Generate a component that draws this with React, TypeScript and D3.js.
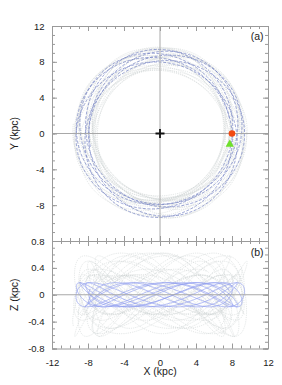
import { useEffect, useRef } from 'react';
import * as d3 from 'd3';

const W = 282;
const H = 385;

// tick labels
const X_TICKS = [-12, -8, -4, 0, 4, 8, 12];
const Y_TICKS = [-12, -8, -4, 0, 4, 8, 12];
const Z_TICKS = [-0.8, -0.4, 0, 0.4, 0.8];

// orbits: first one is the model orbit (blue), the rest are the gray Monte-Carlo orbits
const ORBIT_IDS = ['model', 'mc1', 'mc2', 'mc3', 'mc4', 'mc5', 'mc6'];
const R_PERI = [7.88, 6.95, 7.25, 7.1, 7.5, 7.0, 7.3]; // kpc
const R_APO = [9.4, 9.65, 9.5, 9.7, 9.35, 9.55, 9.6]; // kpc
const Z_MAX = [0.18, 0.62, 0.3, 0.5, 0.29, 0.58, 0.38]; // kpc
const KAPPA_RATIO = [1.38, 1.4, 1.37, 1.42, 1.39, 1.36, 1.41]; // kappa / Omega
const NU_RATIO = [2.62, 1.9, 2.4, 2.1, 2.7, 1.75, 2.25]; // nu / Omega
const TURNS = [6.5, 4, 4, 4, 4, 4, 4];
const PHASE = [0.2, 1.1, 2.3, 3.0, 4.1, 5.2, 0.7];

const SUN = { x: 8.0, y: 0 };
const STAR = { x: 7.75, y: -1.2 };

type Pt = { x: number; y: number; z: number };

function orbitPoints(i: number): Pt[] {
  const rg = (R_PERI[i] + R_APO[i]) / 2;
  const a = (R_APO[i] - R_PERI[i]) / 2;
  const k = KAPPA_RATIO[i];
  const nu = NU_RATIO[i];
  const p = PHASE[i];
  return d3.range(0, TURNS[i] * 2 * Math.PI, 0.015).map((t) => {
    const r = rg - a * Math.cos(k * t + p);
    const phi = t + p + (2 / k) * (a / rg) * Math.sin(k * t + p);
    return { x: r * Math.cos(phi), y: r * Math.sin(phi), z: Z_MAX[i] * Math.sin(nu * t + 1.7 * p) };
  });
}

export default function App() {
  const svgRef = useRef<SVGSVGElement>(null);

  useEffect(() => {
    if (!svgRef.current) return;
    const svg = d3.select(svgRef.current);
    svg.selectAll('*').remove();

    const left = 52;
    const right = 268;
    const topA = 26;
    const mid = 241;
    const botB = 348.5;

    const x = d3.scaleLinear().domain([-12, 12]).range([left, right]);
    const y = d3.scaleLinear().domain([-12, 12]).range([mid, topA]);
    const z = d3.scaleLinear().domain([-0.8, 0.8]).range([botB, mid]);

    const font = '"Liberation Sans", Arial, sans-serif';
    const axisColor = '#9a9a9a';
    const grayOrbit = '#cdd3d3';
    const fmt = (d: d3.NumberValue) => String(d);

    const orbits = ORBIT_IDS.map((_, i) => orbitPoints(i));

    const lineXY = d3.line<Pt>().x((d) => x(d.x)).y((d) => y(d.y));
    const lineXZ = d3.line<Pt>().x((d) => x(d.x)).y((d) => z(d.z));

    // panel (a) orbits
    const ga = svg.append('g');
    orbits.slice(1).forEach((pts) => {
      ga.append('path')
        .attr('d', lineXY(pts))
        .attr('fill', 'none')
        .attr('stroke', grayOrbit)
        .attr('stroke-width', 0.55)
        .attr('stroke-dasharray', '1.2,1');
    });
    ga.append('path')
      .attr('d', lineXY(orbits[0]))
      .attr('fill', 'none')
      .attr('stroke', '#6f7cc2')
      .attr('stroke-width', 0.7)
      .attr('stroke-dasharray', '3,1.6');

    // panel (b) orbits
    const gb = svg.append('g');
    orbits.slice(1).forEach((pts) => {
      gb.append('path')
        .attr('d', lineXZ(pts))
        .attr('fill', 'none')
        .attr('stroke', grayOrbit)
        .attr('stroke-width', 0.55)
        .attr('stroke-dasharray', '1.2,1');
    });
    gb.append('path')
      .attr('d', lineXZ(orbits[0]))
      .attr('fill', 'none')
      .attr('stroke', '#8c9bef')
      .attr('stroke-width', 0.65);

    // zero lines
    svg.append('line')
      .attr('x1', x(0)).attr('x2', x(0)).attr('y1', topA).attr('y2', mid)
      .attr('stroke', '#a8a8a8').attr('stroke-width', 1);
    svg.append('line')
      .attr('x1', left).attr('x2', right).attr('y1', y(0)).attr('y2', y(0))
      .attr('stroke', '#a8a8a8').attr('stroke-width', 1);
    svg.append('line')
      .attr('x1', left).attr('x2', right).attr('y1', z(0)).attr('y2', z(0))
      .attr('stroke', '#a8a8a8').attr('stroke-width', 1);

    // axes
    const minorX = d3.range(-12, 12.001, 1);
    const minorY = d3.range(-12, 12.001, 1);
    const minorZ = d3.range(-8, 8.001, 1).map((d) => d / 10);

    const drawAxis = (
      axis: d3.Axis<d3.NumberValue>,
      minor: d3.Axis<d3.NumberValue>,
      tx: string,
      showLabels: boolean,
    ) => {
      const gm = svg.append('g').attr('transform', tx).call(minor);
      gm.select('.domain').remove();
      gm.selectAll('text').remove();
      gm.selectAll('line').attr('stroke', axisColor);
      const g = svg.append('g').attr('transform', tx).call(axis);
      g.select('.domain').attr('stroke', axisColor);
      g.selectAll('line').attr('stroke', axisColor);
      g.selectAll('text')
        .attr('font-family', font)
        .attr('font-size', '9.5px')
        .attr('fill', '#1a1a1a');
      if (!showLabels) g.selectAll('text').remove();
    };

    // panel (a)
    drawAxis(
      d3.axisLeft(y).tickValues(Y_TICKS.slice(1)).tickFormat(fmt).tickSize(-5).tickPadding(7.5),
      d3.axisLeft(y).tickValues(minorY).tickSize(-3),
      `translate(${left},0)`,
      true,
    );
    drawAxis(
      d3.axisRight(y).tickValues(Y_TICKS).tickSize(-5),
      d3.axisRight(y).tickValues(minorY).tickSize(-3),
      `translate(${right},0)`,
      false,
    );
    drawAxis(
      d3.axisTop(x).tickValues(X_TICKS).tickSize(-5),
      d3.axisTop(x).tickValues(minorX).tickSize(-3),
      `translate(0,${topA})`,
      false,
    );
    drawAxis(
      d3.axisBottom(x).tickValues(X_TICKS).tickSize(-5),
      d3.axisBottom(x).tickValues(minorX).tickSize(-3),
      `translate(0,${mid})`,
      false,
    );

    // panel (b)
    drawAxis(
      d3.axisLeft(z).tickValues(Z_TICKS).tickFormat(fmt).tickSize(-5).tickPadding(7.5),
      d3.axisLeft(z).tickValues(minorZ).tickSize(-3),
      `translate(${left},0)`,
      true,
    );
    drawAxis(
      d3.axisRight(z).tickValues(Z_TICKS).tickSize(-5),
      d3.axisRight(z).tickValues(minorZ).tickSize(-3),
      `translate(${right},0)`,
      false,
    );
    drawAxis(
      d3.axisTop(x).tickValues(X_TICKS).tickSize(-5),
      d3.axisTop(x).tickValues(minorX).tickSize(-3),
      `translate(0,${mid})`,
      false,
    );
    drawAxis(
      d3.axisBottom(x).tickValues(X_TICKS).tickFormat(fmt).tickSize(-5).tickPadding(11),
      d3.axisBottom(x).tickValues(minorX).tickSize(-3),
      `translate(0,${botB})`,
      true,
    );

    // galactic centre cross
    const cx = x(0);
    const cy = y(0);
    svg.append('path')
      .attr('d', `M${cx - 4.5},${cy}H${cx + 4.5}M${cx},${cy - 4.5}V${cy + 4.5}`)
      .attr('stroke', '#111')
      .attr('stroke-width', 1.8);

    // sun and star
    svg.append('circle')
      .attr('cx', x(SUN.x)).attr('cy', y(SUN.y)).attr('r', 3.3)
      .attr('fill', '#f24a12');
    svg.append('path')
      .attr('d', d3.symbol(d3.symbolTriangle, 30)())
      .attr('transform', `translate(${x(STAR.x)},${y(STAR.y)})`)
      .attr('fill', '#6fe02a');

    // labels
    const text = (tx: number, ty: number, s: string, anchor = 'middle', rot = 0) =>
      svg.append('text')
        .attr('transform', `translate(${tx},${ty}) rotate(${rot})`)
        .attr('text-anchor', anchor)
        .attr('font-family', font)
        .attr('font-size', '10.5px')
        .attr('fill', '#1a1a1a')
        .text(s);

    text(x(0), 375, 'X (kpc)');
    text(18, y(0), 'Y (kpc)', 'middle', -90);
    text(18, z(0), 'Z (kpc)', 'middle', -90);
    text(263.5, 40, '(a)', 'end');
    text(263.5, 256, '(b)', 'end');
  }, []);

  return (
    <svg
      ref={svgRef}
      width={W}
      height={H}
      style={{ position: 'absolute', left: 0, top: 0, background: '#fff' }}
    />
  );
}
